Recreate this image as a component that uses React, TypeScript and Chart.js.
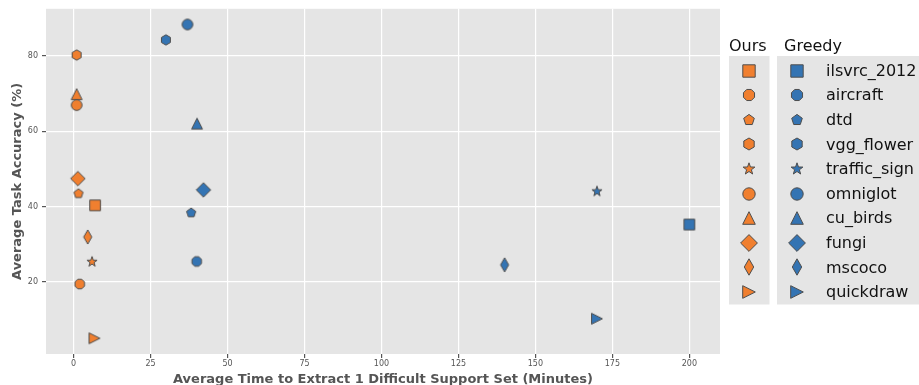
import React, { useEffect, useRef } from 'react';
import { Chart, registerables } from 'chart.js';

Chart.register(...registerables);

// ---------- data ----------
const DATASET_NAMES = ['ilsvrc_2012', 'aircraft', 'dtd', 'vgg_flower', 'traffic_sign', 'omniglot', 'cu_birds', 'fungi', 'mscoco', 'quickdraw'];
const MARKERS = ['square', 'octagon', 'pentagon', 'hexagon', 'star', 'circle', 'triangleUp', 'diamond', 'thinDiamond', 'triangleRight'];
const OURS_TIME = [7.0, 2.0, 1.6, 1.0, 6.0, 1.0, 1.0, 1.4, 4.6, 6.8];
const OURS_ACC = [40.3, 19.4, 43.4, 80.2, 25.3, 66.9, 69.8, 47.4, 31.9, 5.0];
const GREEDY_TIME = [200.0, 40.0, 38.2, 30.0, 170.0, 37.0, 40.1, 42.2, 140.0, 170.0];
const GREEDY_ACC = [35.2, 25.4, 38.3, 84.2, 44.0, 88.3, 62.0, 44.4, 24.5, 10.2];
const GROUP_LABELS = ['Ours', 'Greedy'];
const X_TICKS = [0, 25, 50, 75, 100, 125, 150, 175, 200];
const Y_TICKS = [20, 40, 60, 80];
const X_TITLE = 'Average Time to Extract 1 Difficult Support Set (Minutes)';
const Y_TITLE = 'Average Task Accuracy (%)';

// ---------- style ----------
const ORANGE = '#F07F2F';
const BLUE = '#3474B3';
const EDGE = '#4D4D4D';
const PANEL = '#E5E5E5';
const FONT = '"DejaVu Sans", Verdana, sans-serif';
const PLOT_SCALE = 0.86;

function pathFor(ctx: CanvasRenderingContext2D, shape: string, k: number) {
  const poly = (pts: number[][]) => {
    ctx.beginPath();
    pts.forEach((p, i) => (i === 0 ? ctx.moveTo(p[0] * k, p[1] * k) : ctx.lineTo(p[0] * k, p[1] * k)));
    ctx.closePath();
  };
  const regular = (n: number, r: number, rot: number) => {
    const pts: number[][] = [];
    for (let i = 0; i < n; i++) {
      const a = rot + (i * 2 * Math.PI) / n;
      pts.push([r * Math.cos(a), r * Math.sin(a)]);
    }
    poly(pts);
  };
  switch (shape) {
    case 'square':
      poly([[-6.2, -6.2], [6.2, -6.2], [6.2, 6.2], [-6.2, 6.2]]);
      break;
    case 'circle':
      ctx.beginPath();
      ctx.arc(0, 0, 6.2 * k, 0, Math.PI * 2);
      break;
    case 'octagon':
      regular(8, 6.0, Math.PI / 8);
      break;
    case 'pentagon':
      regular(5, 5.6, -Math.PI / 2);
      break;
    case 'hexagon':
      regular(6, 6.0, -Math.PI / 2);
      break;
    case 'star': {
      const pts: number[][] = [];
      for (let i = 0; i < 10; i++) {
        const r = i % 2 === 0 ? 6.2 : 2.5;
        const a = -Math.PI / 2 + (i * Math.PI) / 5;
        pts.push([r * Math.cos(a), r * Math.sin(a)]);
      }
      poly(pts);
      break;
    }
    case 'triangleUp':
      poly([[0, -6.3], [-6.3, 6.3], [6.3, 6.3]]);
      break;
    case 'triangleRight':
      poly([[6.3, 0], [-6.3, -6.3], [-6.3, 6.3]]);
      break;
    case 'diamond':
      poly([[0, -8.4], [8.4, 0], [0, 8.4], [-8.4, 0]]);
      break;
    case 'thinDiamond':
      poly([[0, -8.2], [4.7, 0], [0, 8.2], [-4.7, 0]]);
      break;
  }
}

function makeSprite(shape: string, color: string, k: number): HTMLCanvasElement {
  const size = Math.ceil(20 * k) + 4;
  const c = document.createElement('canvas');
  c.width = size;
  c.height = size;
  const ctx = c.getContext('2d')!;
  ctx.translate(size / 2, size / 2);
  pathFor(ctx, shape, k);
  ctx.fillStyle = color;
  ctx.fill();
  ctx.lineWidth = 1;
  ctx.strokeStyle = EDGE;
  ctx.stroke();
  return c;
}

function paddedRange(vals: number[]) {
  const lo = Math.min(...vals);
  const hi = Math.max(...vals);
  const pad = (hi - lo) * 0.05;
  return [lo - pad, hi + pad];
}

export default function App() {
  const ref = useRef<HTMLCanvasElement>(null);

  useEffect(() => {
    if (!ref.current) return;
    const [xMin, xMax] = paddedRange([...OURS_TIME, ...GREEDY_TIME]);
    const [yMin, yMax] = paddedRange([...OURS_ACC, ...GREEDY_ACC]);

    const groups = [
      { label: GROUP_LABELS[0], color: ORANGE, t: OURS_TIME, a: OURS_ACC },
      { label: GROUP_LABELS[1], color: BLUE, t: GREEDY_TIME, a: GREEDY_ACC },
    ];
    const datasets: any[] = [];
    groups.forEach((g) => {
      DATASET_NAMES.forEach((name, i) => {
        datasets.push({
          label: `${g.label} ${name}`,
          data: [{ x: g.t[i], y: g.a[i] }],
          pointStyle: makeSprite(MARKERS[i], g.color, PLOT_SCALE),
          pointRadius: 5,
          showLine: false,
        });
      });
    });

    const legendSprites = groups.map((g) => MARKERS.map((m) => makeSprite(m, g.color, 1)));

    const bgPlugin = {
      id: 'panelBg',
      beforeDraw(chart: any) {
        const { ctx, chartArea: a } = chart;
        ctx.save();
        ctx.fillStyle = '#ffffff';
        ctx.fillRect(0, 0, chart.width, chart.height);
        ctx.fillStyle = PANEL;
        ctx.fillRect(a.left, a.top, a.right - a.left, a.bottom - a.top);
        ctx.restore();
      },
    };

    const legendPlugin = {
      id: 'twoColLegend',
      afterDraw(chart: any) {
        const { ctx, chartArea: a } = chart;
        const x0 = a.right + 9;
        const top = 56;
        const rowH = 24.6;
        const firstRow = 70.6;
        const bottom = top + 248.5;
        ctx.save();
        ctx.fillStyle = PANEL;
        ctx.fillRect(x0, top, 40.5, bottom - top);
        ctx.fillRect(x0 + 48, top, chart.width - (x0 + 48), bottom - top);
        ctx.fillStyle = '#111';
        ctx.font = `16px ${FONT}`;
        ctx.textBaseline = 'alphabetic';
        ctx.textAlign = 'left';
        ctx.fillText(GROUP_LABELS[0], x0, 51);
        ctx.fillText(GROUP_LABELS[1], x0 + 55, 51);
        ctx.textBaseline = 'middle';
        DATASET_NAMES.forEach((name, i) => {
          const cy = firstRow + i * rowH;
          [x0 + 19.5, x0 + 67.7].forEach((cx, gi) => {
            const s = legendSprites[gi][i];
            ctx.drawImage(s, Math.round(cx - s.width / 2), Math.round(cy - s.height / 2));
          });
          ctx.fillText(name, x0 + 97, cy + 1);
        });
        ctx.restore();
      },
    };

    const chart = new Chart(ref.current, {
      type: 'scatter',
      data: { datasets },
      options: {
        animation: false,
        responsive: false,
        devicePixelRatio: 1,
        layout: { padding: { left: 0, top: 8, right: 199, bottom: 0 } },
        plugins: { legend: { display: false }, tooltip: { enabled: false } },
        scales: {
          x: {
            type: 'linear',
            min: xMin,
            max: xMax,
            afterBuildTicks: (s: any) => {
              s.ticks = X_TICKS.map((v) => ({ value: v }));
            },
            afterFit: (s: any) => {
              s.height = 31;
            },
            ticks: { font: { family: FONT, size: 8 }, color: '#555', padding: 1, maxRotation: 0, autoSkip: false },
            grid: { color: '#ffffff', lineWidth: 1.2, tickColor: '#555', tickLength: 4, drawTicks: true },
            border: { display: false },
            title: {
              display: true,
              text: X_TITLE,
              color: '#555',
              font: { family: FONT, size: 13, weight: 'bold', lineHeight: 1 },
              padding: { top: 0, bottom: -1 },
            },
          },
          y: {
            type: 'linear',
            min: yMin,
            max: yMax,
            afterBuildTicks: (s: any) => {
              s.ticks = Y_TICKS.map((v) => ({ value: v }));
            },
            afterFit: (s: any) => {
              s.width = 46;
            },
            ticks: { font: { family: FONT, size: 8 }, color: '#555', padding: 4 },
            grid: { color: '#ffffff', lineWidth: 1.2, tickColor: '#555', tickLength: 4, drawTicks: true },
            border: { display: false },
            title: {
              display: true,
              text: Y_TITLE,
              color: '#555',
              font: { family: FONT, size: 13, weight: 'bold', lineHeight: 1 },
              padding: { top: 11, bottom: 0 },
            },
          },
        },
      },
      plugins: [bgPlugin, legendPlugin],
    } as any);

    return () => chart.destroy();
  }, []);

  return (
    <div style={{ position: 'absolute', left: 0, top: 0, width: 919, height: 385, background: '#fff' }}>
      <canvas ref={ref} width={919} height={385} style={{ display: 'block' }} />
    </div>
  );
}
